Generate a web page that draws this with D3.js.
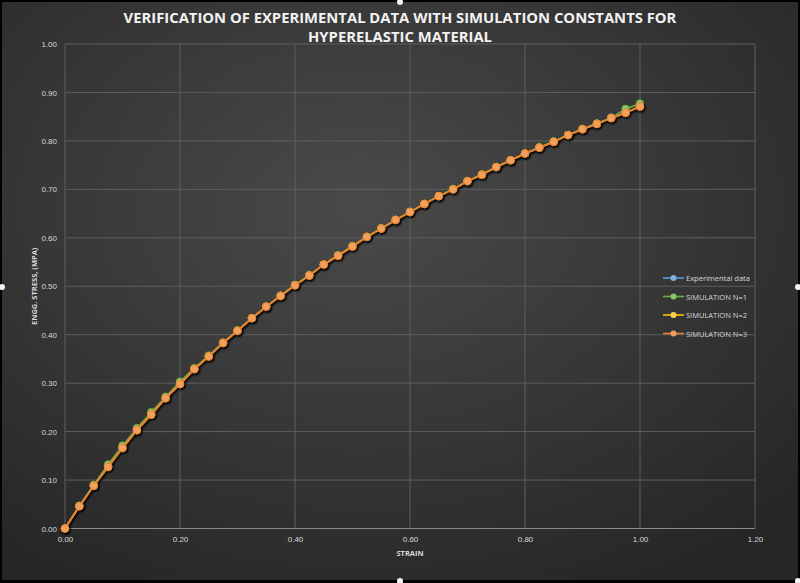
<!DOCTYPE html>
<html>
<head>
<meta charset="utf-8">
<script src="https://cdn.jsdelivr.net/npm/d3@7"></script>
<style>
  html, body { margin: 0; padding: 0; background: #000; }
  svg { display: block; }
</style>
</head>
<body>
<div id="chart"></div>
<script>
"use strict"

// strain values (x)
const strain = [0, 0.025, 0.05, 0.075, 0.1, 0.125, 0.15, 0.175, 0.2, 0.225, 0.25, 0.275, 0.3,
  0.325, 0.35, 0.375, 0.4, 0.425, 0.45, 0.475, 0.5, 0.525, 0.55, 0.575, 0.6, 0.625, 0.65,
  0.675, 0.7, 0.725, 0.75, 0.775, 0.8, 0.825, 0.85, 0.875, 0.9, 0.925, 0.95, 0.975, 1.0];

const experimental = [0, 0.046, 0.088, 0.128, 0.166, 0.202, 0.236, 0.268, 0.298, 0.328, 0.355, 0.382, 0.408,
  0.433, 0.457, 0.480, 0.502, 0.523, 0.544, 0.564, 0.583, 0.601, 0.619, 0.636, 0.653, 0.669, 0.685,
  0.700, 0.716, 0.730, 0.745, 0.759, 0.773, 0.786, 0.799, 0.812, 0.824, 0.836, 0.848, 0.859, 0.870];

const simN1 = [0, 0.047, 0.090, 0.132, 0.171, 0.207, 0.240, 0.272, 0.303, 0.331, 0.357, 0.384, 0.409,
  0.434, 0.458, 0.481, 0.503, 0.523, 0.545, 0.564, 0.583, 0.602, 0.620, 0.637, 0.654, 0.670, 0.686,
  0.701, 0.717, 0.731, 0.746, 0.760, 0.774, 0.787, 0.799, 0.812, 0.825, 0.836, 0.848, 0.866, 0.877];

const simN2 = [0, 0.046, 0.088, 0.127, 0.166, 0.203, 0.235, 0.269, 0.298, 0.329, 0.355, 0.383, 0.408,
  0.434, 0.458, 0.480, 0.502, 0.522, 0.545, 0.563, 0.582, 0.602, 0.619, 0.637, 0.653, 0.670, 0.686,
  0.700, 0.717, 0.730, 0.746, 0.760, 0.774, 0.786, 0.798, 0.812, 0.824, 0.835, 0.847, 0.858, 0.871];

const simN3 = [0, 0.046, 0.088, 0.127, 0.166, 0.203, 0.235, 0.269, 0.298, 0.329, 0.355, 0.383, 0.408,
  0.434, 0.458, 0.480, 0.502, 0.522, 0.545, 0.563, 0.582, 0.602, 0.619, 0.637, 0.653, 0.670, 0.686,
  0.700, 0.717, 0.730, 0.746, 0.760, 0.774, 0.786, 0.798, 0.812, 0.824, 0.835, 0.847, 0.858, 0.871];

const seriesNames = ["Experimental data", "SIMULATION N=1", "SIMULATION N=2", "SIMULATION N=3"];
const seriesValues = [experimental, simN1, simN2, simN3];

const xTicks = [0, 0.2, 0.4, 0.6, 0.8, 1.0, 1.2];
const yTicks = [0, 0.1, 0.2, 0.3, 0.4, 0.5, 0.6, 0.7, 0.8, 0.9, 1.0];

const titleLines = ["VERIFICATION OF EXPERIMENTAL DATA WITH SIMULATION CONSTANTS FOR", "HYPERELASTIC MATERIAL"];

const lineColors = ["#5B9BD5", "#70AD47", "#FFC000", "#ED7D31"];
const markerColors = ["#7fb2e0", "#8cc366", "#ffd045", "#f0a05e"];

const W = 800, H = 583;
const margin = {left: 65, right: 45, top: 44, bottom: 54.5};

const svg = d3.select("#chart").append("svg")
    .attr("width", W)
    .attr("height", H)
    .style("font-family", "'Open Sans', 'DejaVu Sans', sans-serif");

const defs = svg.append("defs");
const bg = defs.append("radialGradient")
    .attr("id", "bg")
    .attr("cx", "45%").attr("cy", "35%").attr("r", "75%");
bg.append("stop").attr("offset", "0%").attr("stop-color", "#4a4a4a");
bg.append("stop").attr("offset", "100%").attr("stop-color", "#262626");

defs.append("filter")
    .attr("id", "shadow")
    .attr("x", "-50%").attr("y", "-50%").attr("width", "200%").attr("height", "200%")
  .append("feDropShadow")
    .attr("dx", 1).attr("dy", 1.2).attr("stdDeviation", 1)
    .attr("flood-color", "#000").attr("flood-opacity", 0.7);

// frame and background
svg.append("rect").attr("width", W).attr("height", H).attr("fill", "#000");
svg.append("rect")
    .attr("x", 2).attr("y", 2)
    .attr("width", W - 4).attr("height", H - 5)
    .attr("fill", "url(#bg)");

const x = d3.scaleLinear().domain([0, 1.2]).range([margin.left, W - margin.right]);
const y = d3.scaleLinear().domain([0, 1.0]).range([H - margin.bottom, margin.top]);

// gridlines
svg.append("g")
    .selectAll("line.h")
    .data(yTicks.slice(1))
    .join("line")
    .attr("x1", x(0)).attr("x2", x(1.2))
    .attr("y1", d => y(d)).attr("y2", d => y(d))
    .attr("stroke", "#5e5e5e")
    .attr("stroke-width", 1);

svg.append("g")
    .selectAll("line.v")
    .data(xTicks)
    .join("line")
    .attr("y1", y(0)).attr("y2", y(1.0))
    .attr("x1", d => x(d)).attr("x2", d => x(d))
    .attr("stroke", "#5e5e5e")
    .attr("stroke-width", 1);

// x axis line
svg.append("line")
    .attr("x1", x(0)).attr("x2", x(1.2))
    .attr("y1", y(0)).attr("y2", y(0))
    .attr("stroke", "#8a8a8a")
    .attr("stroke-width", 1.2);

// axes with d3 (labels only)
const xAxis = svg.append("g")
    .attr("transform", `translate(0,${y(0)})`)
    .call(d3.axisBottom(x).tickValues(xTicks).tickFormat(d3.format(".2f")).tickSize(0).tickPadding(8));
xAxis.select(".domain").remove();
xAxis.selectAll("text")
    .attr("fill", "#d9d9d9")
    .style("font-size", "8px");

const yAxis = svg.append("g")
    .attr("transform", `translate(${x(0)},0)`)
    .call(d3.axisLeft(y).tickValues(yTicks).tickFormat(d3.format(".2f")).tickSize(0).tickPadding(8));
yAxis.select(".domain").remove();
yAxis.selectAll("text")
    .attr("fill", "#d9d9d9")
    .style("font-size", "8px");

// title
svg.append("g")
    .selectAll("text")
    .data(titleLines)
    .join("text")
    .attr("x", W / 2)
    .attr("y", (d, i) => 22.5 + i * 19.5)
    .attr("text-anchor", "middle")
    .attr("fill", "#f2f2f2")
    .style("font-size", "14.8px")
    .style("font-weight", "bold")
    .text(d => d);

// axis titles
svg.append("text")
    .attr("x", (x(0) + x(1.2)) / 2)
    .attr("y", 556)
    .attr("text-anchor", "middle")
    .attr("fill", "#d9d9d9")
    .style("font-size", "7.5px")
    .style("font-weight", "bold")
    .text("STRAIN");

svg.append("text")
    .attr("transform", `translate(37,${(y(0) + y(1)) / 2}) rotate(-90)`)
    .attr("text-anchor", "middle")
    .attr("fill", "#d9d9d9")
    .style("font-size", "7.5px")
    .style("font-weight", "bold")
    .text("ENGG. STRESS, (MPA)");

// series
const line = d3.line()
    .x((d, i) => x(strain[i]))
    .y(d => y(d));

seriesValues.forEach((vals, s) => {
    const g = svg.append("g").attr("filter", "url(#shadow)");
    g.append("path")
        .datum(vals)
        .attr("d", line)
        .attr("fill", "none")
        .attr("stroke", lineColors[s])
        .attr("stroke-width", 1.6);
    g.selectAll("circle")
        .data(vals)
        .join("circle")
        .attr("cx", (d, i) => x(strain[i]))
        .attr("cy", d => y(d))
        .attr("r", 3.8)
        .attr("fill", markerColors[s])
        .attr("stroke", lineColors[s])
        .attr("stroke-width", 0.8);
});

// legend
const legend = svg.append("g");
const legY = [278, 296.5, 315, 333.5];
seriesNames.forEach((name, s) => {
    const row = legend.append("g").attr("transform", `translate(0,${legY[s]})`);
    row.append("line")
        .attr("x1", 663).attr("x2", 684)
        .attr("stroke", lineColors[s])
        .attr("stroke-width", 1.6);
    row.append("circle")
        .attr("cx", 673.5).attr("r", 3)
        .attr("fill", markerColors[s]);
    row.append("text")
        .attr("x", 686)
        .attr("y", 3)
        .attr("fill", "#d9d9d9")
        .style("font-size", "7.5px")
        .text(name);
});

// selection handles of the chart frame
const handles = [[400, 2], [2, 287], [798, 287], [400, 581], [798, 581]];
svg.append("g")
    .selectAll("circle")
    .data(handles)
    .join("circle")
    .attr("cx", d => d[0]).attr("cy", d => d[1])
    .attr("r", 3)
    .attr("fill", "#f5f5f5");
</script>
</body>
</html>
